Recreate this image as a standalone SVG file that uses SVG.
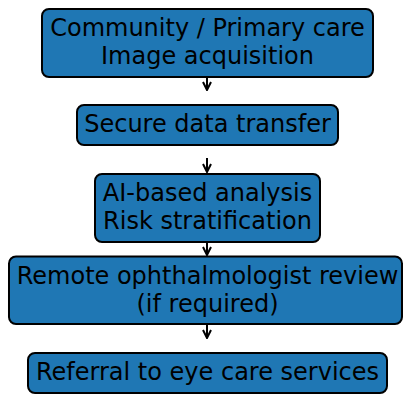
<svg xmlns="http://www.w3.org/2000/svg" width="403" height="394" viewBox="0 0 403 394">
  <style>
    .box { fill: #1f77b4; stroke: #000; stroke-width: 2; }
    .label { font-family: "DejaVu Sans", sans-serif; font-size: 24px; fill: #000; text-anchor: middle; }
    .link { fill: none; stroke: #000; stroke-width: 2; }
  </style>
  <defs>
    <marker id="head" viewBox="0 0 10 10" refX="9" refY="5" markerWidth="10" markerHeight="10" markerUnits="userSpaceOnUse" orient="auto">
      <path d="M1 1 L9 5 L1 9" fill="none" stroke="#000" stroke-width="2"/>
    </marker>
  </defs>
  <rect width="403" height="394" fill="#fff"/>

  <g id="connectors">
    <path class="link" d="M207 77 V90" marker-end="url(#head)"/>
    <path class="link" d="M207 158 V172" marker-end="url(#head)"/>
    <path class="link" d="M207 242 V255" marker-end="url(#head)"/>
    <path class="link" d="M207 324 V338" marker-end="url(#head)"/>
  </g>

  <g id="acquisition">
    <rect class="box" x="42" y="9" width="331" height="68" rx="7"/>
    <text class="label" x="207.5" y="36">Community / Primary care</text>
    <text class="label" x="207.5" y="64">Image acquisition</text>
  </g>

  <g id="transfer">
    <rect class="box" x="77" y="105" width="261" height="40" rx="7"/>
    <text class="label" x="207.5" y="131.5">Secure data transfer</text>
  </g>

  <g id="analysis">
    <rect class="box" x="95" y="174" width="225" height="68" rx="7"/>
    <text class="label" x="207.5" y="200.5">AI-based analysis</text>
    <text class="label" x="207.5" y="228.5">Risk stratification</text>
  </g>

  <g id="review">
    <rect class="box" x="9" y="256.5" width="393" height="67.5" rx="7"/>
    <text class="label" x="207.5" y="283.5">Remote ophthalmologist review</text>
    <text class="label" x="207.5" y="311.5">(if required)</text>
  </g>

  <g id="referral">
    <rect class="box" x="28" y="353" width="359" height="40" rx="7"/>
    <text class="label" x="207.5" y="379.5">Referral to eye care services</text>
  </g>
</svg>
